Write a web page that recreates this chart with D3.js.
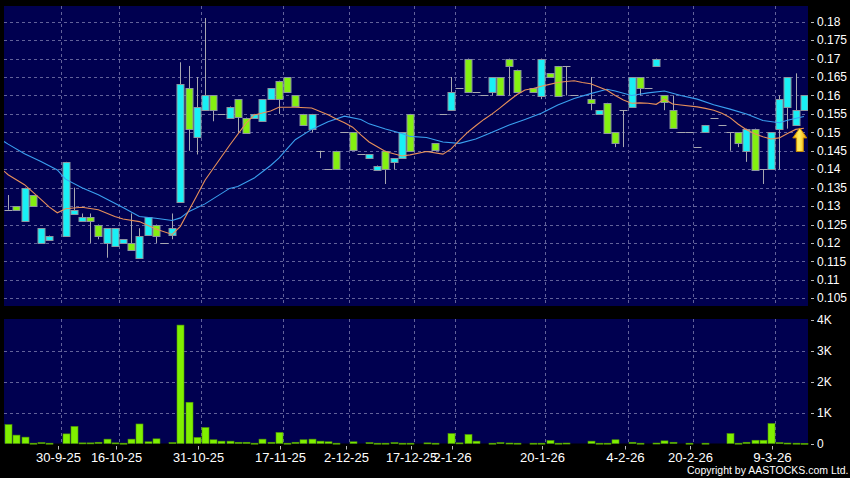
<!DOCTYPE html>
<html><head><meta charset="utf-8">
<script src="https://cdn.jsdelivr.net/npm/d3@7"></script>
<style>html,body{margin:0;padding:0;background:#000;}svg{display:block;}</style>
</head><body>
<script>
// ---- DATA ----
// one slot per trading session; null = no candle drawn
const opens  = [.129,.130,.126,.133,.120,.121,null,.122,.128,.126,.127,.125,.120,.119,.120,.120,.116,.122,.125,.120,.122,.131,.162,.149,.156,.160,.155,.154,.159,.154,.154,.153,.159,.164,.165,.160,.155,.151,.145,.140,.145,.150,.150,.144,.143,.140,.145,.142,.143,.155,null,.145,.147,.155,.156,.162,.170,.161,.160,.161,.165,.170,.167,null,.162,.160,.166,.168,.168,.160,null,.159,.155,.158,.150,.156,.157,.165,.162,.168,.160,.156,.150,.150,.146,.150,.154,.152,.150,.150,.145,.151,.140,.140,.151,.157,.152,.156];
const highs  = [.133,.130,.135,.133,.124,.122,null,.142,.135,.128,.128,.125,.124,.124,.121,.128,.124,.127,.125,.120,.128,.169,.168,.165,.181,.160,.155,.157,.159,.154,.155,.159,.162,.164,.165,.160,.155,.155,.145,.140,.145,.150,.150,.144,.144,.141,.145,.143,.150,.155,null,.145,.147,.155,.165,.162,.170,.161,.160,.165,.165,.170,.167,null,.162,.170,.166,.168,.168,.160,null,.165,.156,.158,.150,.156,.165,.165,.162,.170,.160,.160,.150,.150,.146,.152,.154,.152,.150,.150,.151,.151,.140,.150,.160,.165,.166,.160];
const lows   = [.129,.129,.126,.130,.120,.121,null,.122,.128,.126,.120,.121,.116,.119,.120,.118,.116,.122,.120,.120,.121,.131,.145,.144,.156,.153,.155,.154,.150,.150,.154,.153,.159,.155,.161,.157,.152,.150,.143,.140,.140,.150,.145,.144,.143,.140,.136,.140,.143,.145,null,.145,.145,.155,.156,.162,.161,.161,.160,.160,.160,.160,.161,null,.161,.159,.165,.160,.160,.160,null,.156,.155,.150,.146,.146,.157,.160,.162,.168,.156,.151,.150,.150,.146,.150,.154,.152,.145,.146,.142,.140,.136,.140,.140,.151,.152,.156];
const closes = [.129,.129,.135,.130,.124,.122,null,.142,.129,.127,.126,.122,.124,.124,.121,.118,.122,.127,.122,.120,.124,.163,.151,.157,.160,.156,.155,.157,.154,.150,.155,.159,.162,.159,.161,.157,.152,.155,.145,.140,.140,.150,.145,.144,.144,.141,.140,.143,.150,.145,null,.145,.145,.155,.161,.162,.161,.161,.160,.165,.160,.168,.161,null,.161,.170,.165,.160,.168,.160,null,.158,.156,.150,.147,.156,.165,.162,.162,.170,.158,.151,.150,.150,.146,.152,.154,.152,.150,.147,.151,.140,.140,.150,.159,.165,.156,.160];
const volumes= [610,270,205,10,30,10,0,310,550,20,20,40,140,20,10,140,630,55,150,0,30,3820,1330,195,515,120,75,75,40,40,10,140,40,355,10,40,120,140,75,55,10,0,55,0,30,10,10,30,10,10,0,20,10,0,320,20,290,75,0,10,30,15,10,0,10,10,95,10,15,0,0,75,10,10,120,0,40,10,0,15,85,40,0,10,0,10,0,0,320,10,40,105,105,645,30,15,10,5];
// moving averages: [slot, value]
const maShort = [[-0.5,.1395],[0,.1385],[2,.1358],[4,.1318],[5,.1298],[6,.1282],[7,.1293],[9,.1297],[11,.129],[13,.1272],[14,.1265],[16,.1258],[18,.1238],[20,.1223],[21,.1245],[22,.1287],[23,.1328],[24,.137],[25,.1402],[27,.1465],[29,.1525],[30,.1547],[32,.1558],[33,.1568],[35,.1568],[37,.1566],[39,.1548],[40,.1536],[41,.1526],[42,.1514],[43,.1493],[44,.1474],[46,.1448],[48,.1436],[49,.1439],[51,.1448],[53,.1441],[54,.1455],[55,.1478],[56,.15],[57,.1518],[58,.1535],[59,.155],[60,.1567],[61,.1585],[62,.1602],[63,.1615],[64,.1619],[65,.1625],[66,.163],[67,.1635],[68,.1638],[69,.164],[70,.1635],[71,.1632],[72,.1623],[73,.1614],[74,.16],[75,.1588],[76,.1579],[77,.158],[78,.1579],[79,.1576],[80,.159],[81,.1577],[82,.1574],[84,.1569],[85,.1565],[86,.156],[87,.1552],[88,.154],[89,.1522],[90,.1507],[91,.1496],[92,.1488],[93,.1482],[94,.1485],[95,.1497],[96,.1508],[97,.1511]];
const maLong = [[-0.5,.1475],[0,.1468],[2,.1442],[4,.1421],[6,.1398],[7,.1373],[9,.135],[11,.1331],[14,.1296],[16,.1272],[18,.1267],[20,.1261],[21,.1268],[22,.1285],[24,.1306],[27,.1348],[28,.1353],[30,.1376],[32,.141],[33,.143],[34,.1455],[35,.148],[37,.1508],[39,.1529],[41,.1544],[43,.1535],[44,.1523],[46,.1509],[48,.1497],[49,.1489],[51,.1486],[53,.1474],[55,.147],[57,.1482],[59,.15],[61,.1519],[63,.1535],[65,.1552],[67,.1574],[69,.1592],[71,.1605],[73,.1617],[74,.1612],[76,.16],[78,.1607],[80,.1612],[82,.16],[84,.159],[86,.1575],[88,.1563],[90,.155],[92,.1532],[94,.1526],[95,.1533],[97,.1543]];
// date axis: label and the slot it starts
const tickLabels = ["30-9-25","16-10-25","31-10-25","17-11-25","2-12-25","17-12-25","2-1-26","20-1-26","4-2-26","20-2-26","9-3-26"];
const tickSlots  = [7,14,24,34,42,50,55,66,76,84,94];
const priceTicks = [0.105,0.11,0.115,0.12,0.125,0.13,0.135,0.14,0.145,0.15,0.155,0.16,0.165,0.17,0.175,0.18];
const volTicks   = [0,1000,2000,3000,4000];
const volTickLabels = ["0","1K","2K","3K","4K"];
const signal = {slot:96.5, tip:0.1512, base:0.1448};

// ---- LAYOUT ----
const W=850,H=478;
const L=4,R=808;
const pTop=6,pBot=306,vTop=319,vBot=443.5;
const BG="#000050", GRID="#62629a", UP="#19f0f5", DOWN="#84f010", EDGE="#8c96a0", WICK="#a8a8b0";

const svg=d3.select("body").append("svg").attr("width",W).attr("height",H);
svg.append("rect").attr("width",W).attr("height",H).attr("fill","#000");

const x=d3.scaleLinear().domain([-0.5,97.5]).range([L,R]);
const yP=d3.scaleLinear().domain([0.10291,0.18426]).range([pBot,pTop]);
const yV=d3.scaleLinear().domain([0,4000]).range([vBot,vTop+0.5]);

const defs=svg.append("defs");
defs.append("clipPath").attr("id","cp").append("rect").attr("x",L).attr("y",pTop).attr("width",R-L).attr("height",pBot-pTop);
const g=defs.append("linearGradient").attr("id","arrowG").attr("x1",0).attr("x2",1).attr("y1",0).attr("y2",0);
g.append("stop").attr("offset","0%").attr("stop-color","#ffb000");
g.append("stop").attr("offset","45%").attr("stop-color","#fff060");
g.append("stop").attr("offset","100%").attr("stop-color","#f0a000");

svg.append("rect").attr("x",L).attr("y",pTop).attr("width",R-L).attr("height",pBot-pTop).attr("fill",BG);
svg.append("rect").attr("x",L).attr("y",vTop).attr("width",R-L).attr("height",vBot-vTop).attr("fill",BG);

const dash="3,3";
// horizontal price grid
svg.append("g").selectAll("line").data(priceTicks).join("line")
  .attr("x1",L).attr("x2",R).attr("y1",d=>Math.round(yP(d))+0.5).attr("y2",d=>Math.round(yP(d))+0.5)
  .attr("stroke",GRID).attr("stroke-dasharray",dash);
// horizontal volume grid
svg.append("g").selectAll("line").data(volTicks.filter(d=>d>0&&d<4000)).join("line")
  .attr("x1",L).attr("x2",R).attr("y1",d=>Math.round(yV(d))+0.5).attr("y2",d=>Math.round(yV(d))+0.5)
  .attr("stroke",GRID).attr("stroke-dasharray",dash);
// vertical grid
const gx=d=>Math.round(x(d-0.5))+0.5;
[[pTop,pBot],[vTop,vBot]].forEach(([a,b])=>{
  svg.append("g").selectAll("line").data(tickSlots).join("line")
    .attr("x1",gx).attr("x2",gx).attr("y1",a).attr("y2",b)
    .attr("stroke",GRID).attr("stroke-dasharray",dash);
});

// candles
const idx=d3.range(opens.length).filter(i=>opens[i]!==null);
const cg=svg.append("g").attr("clip-path","url(#cp)");
const cx=i=>Math.round(x(i));
cg.selectAll("line.wick").data(idx.filter(i=>highs[i]>lows[i])).join("line")
  .attr("x1",i=>cx(i)+0.5).attr("x2",i=>cx(i)+0.5)
  .attr("y1",i=>yP(highs[i])).attr("y2",i=>yP(lows[i]))
  .attr("stroke",WICK).attr("stroke-width",1);
cg.selectAll("line.flat").data(idx.filter(i=>opens[i]===closes[i])).join("line")
  .attr("x1",i=>cx(i)-3.5).attr("x2",i=>cx(i)+4.5)
  .attr("y1",i=>Math.round(yP(opens[i]))+0.5).attr("y2",i=>Math.round(yP(opens[i]))+0.5)
  .attr("stroke",WICK).attr("stroke-width",1);
cg.selectAll("rect.body").data(idx.filter(i=>opens[i]!==closes[i])).join("rect")
  .attr("x",i=>cx(i)-3).attr("width",7)
  .attr("y",i=>Math.round(yP(Math.max(opens[i],closes[i])))+0.5)
  .attr("height",i=>Math.max(1,Math.round(Math.abs(yP(opens[i])-yP(closes[i])))))
  .attr("fill",i=>closes[i]>opens[i]?UP:DOWN)
  .attr("stroke",EDGE).attr("stroke-width",1);

// moving averages
const line=d3.line().x(d=>x(d[0])).y(d=>yP(d[1]));
cg.append("path").datum(maLong).attr("d",line).attr("fill","none").attr("stroke","#3aa0f0").attr("stroke-width",1.1);
cg.append("path").datum(maShort).attr("d",line).attr("fill","none").attr("stroke","#e8905a").attr("stroke-width",1.1);

// signal arrow
(function(){
  const c=x(signal.slot), t=yP(signal.tip), b=yP(signal.base);
  const hw=7, sw=3.5, hh=10;
  const p=`M${c},${t} L${c+hw},${t+hh} L${c+sw},${t+hh} L${c+sw},${b} L${c-sw},${b} L${c-sw},${t+hh} L${c-hw},${t+hh} Z`;
  cg.append("path").attr("d",p).attr("fill","url(#arrowG)").attr("stroke","#c88a00").attr("stroke-width",1);
})();

// volume bars
svg.append("g").selectAll("rect").data(d3.range(volumes.length).filter(i=>volumes[i]>0)).join("rect")
  .attr("x",i=>cx(i)-3).attr("width",7)
  .attr("y",i=>yV(volumes[i])).attr("height",i=>Math.max(1,vBot-yV(volumes[i])))
  .attr("fill","#80f000").attr("stroke","#4f9a00").attr("stroke-width",0.6);

// right axes
const font="'Liberation Sans', Arial, sans-serif";
const ay=svg.append("g");
ay.selectAll("line.pt").data(priceTicks).join("line")
  .attr("x1",R+3).attr("x2",R+6).attr("y1",d=>Math.round(yP(d))+0.5).attr("y2",d=>Math.round(yP(d))+0.5).attr("stroke","#bbb");
ay.selectAll("text.pt").data(priceTicks).join("text")
  .attr("x",R+9).attr("y",d=>yP(d)).attr("dy","0.35em")
  .attr("fill","#fff").attr("font-family",font).attr("font-size",12).text(d=>String(+d.toFixed(3)));
ay.selectAll("line.vt").data(volTicks).join("line")
  .attr("x1",R+3).attr("x2",R+6).attr("y1",d=>Math.round(yV(d))+0.5).attr("y2",d=>Math.round(yV(d))+0.5).attr("stroke","#bbb");
ay.selectAll("text.vt").data(volTicks).join("text")
  .attr("x",R+9).attr("y",d=>yV(d)).attr("dy","0.35em")
  .attr("fill","#fff").attr("font-family",font).attr("font-size",12).text((d,i)=>volTickLabels[i]);

// date axis
const ax=svg.append("g");
ax.selectAll("line").data(tickSlots).join("line")
  .attr("x1",d=>gx(d)-3).attr("x2",d=>gx(d)-3).attr("y1",vBot+2.5).attr("y2",vBot+6).attr("stroke","#bbb");
ax.selectAll("text").data(tickSlots).join("text")
  .attr("x",d=>gx(d)-3).attr("y",462).attr("text-anchor","middle")
  .attr("fill","#fff").attr("font-family",font).attr("font-size",12.5)
  .attr("textLength",(d,i)=>tickLabels[i].length*6.4).attr("lengthAdjust","spacingAndGlyphs")
  .text((d,i)=>tickLabels[i]);

svg.append("text").attr("x",687).attr("y",474).attr("text-anchor","start")
  .attr("fill","#fff").attr("font-family",font).attr("font-size",10.5)
  .text("Copyright by AASTOCKS.com Ltd.");
</script>
</body></html>
